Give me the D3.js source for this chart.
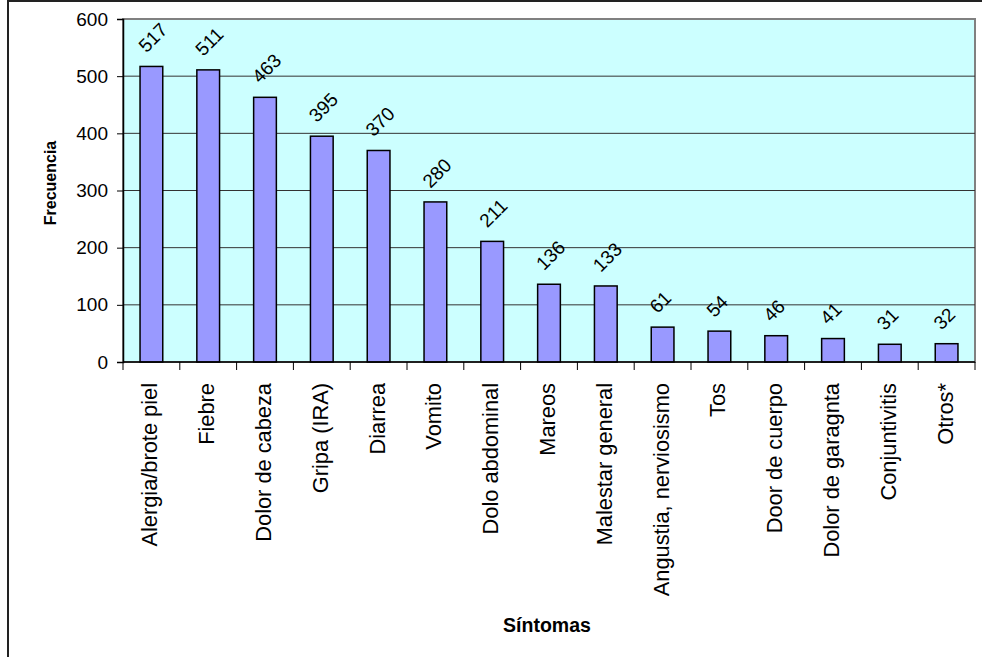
<!DOCTYPE html>
<html>
<head>
<meta charset="utf-8">
<script src="https://cdn.jsdelivr.net/npm/d3@7"></script>
<style>
  body { margin: 0; background: #fff; }
  svg { display: block; font-family: Arial, "Liberation Sans", sans-serif; }
</style>
</head>
<body>
<svg id="chart" width="982" height="657"></svg>
<script>
var categories = ["Alergia/brote piel", "Fiebre", "Dolor de cabeza", "Gripa (IRA)", "Diarrea", "Vomito",
    "Dolo abdominal", "Mareos", "Malestar general", "Angustia, nerviosismo", "Tos", "Door de cuerpo",
    "Dolor de garagnta", "Conjuntivitis", "Otros*"];
var frecuencia = [517, 511, 463, 395, 370, 280, 211, 136, 133, 61, 54, 46, 41, 31, 32];
var yTicks = [0, 100, 200, 300, 400, 500, 600];

var svg, plot, x, y, pLeft, pRight, pTop, pBottom;
svg = d3.select("#chart");
pLeft = 123; pRight = 975; pTop = 19; pBottom = 362;

// outer chart border
svg.append("rect").attr("x", 8).attr("y", 1).attr("width", 1000).attr("height", 700)
    .attr("fill", "#fff").attr("stroke", "#222").attr("stroke-width", 2);

x = d3.scaleBand().domain(categories).range([pLeft, pRight]).paddingInner(0.6).paddingOuter(0.3);
y = d3.scaleLinear().domain([0, 600]).range([pBottom, pTop]);

// plot area
svg.append("rect").attr("x", pLeft).attr("y", pTop).attr("width", pRight - pLeft).attr("height", pBottom - pTop)
    .attr("fill", "#ccffff").attr("stroke", "#808080").attr("stroke-width", 2);

// gridlines
svg.append("g").selectAll("line").data(yTicks.filter(function (d) { return d > 0 && d < 600; }))
    .enter().append("line")
    .attr("x1", pLeft).attr("x2", pRight)
    .attr("y1", function (d) { return y(d); }).attr("y2", function (d) { return y(d); })
    .attr("stroke", "#333").attr("stroke-width", 1);

// bars
plot = svg.append("g");
plot.selectAll("rect").data(frecuencia).enter().append("rect")
    .attr("x", function (d, i) { return x(categories[i]); })
    .attr("y", function (d) { return y(d); })
    .attr("width", x.bandwidth())
    .attr("height", function (d) { return pBottom - y(d); })
    .attr("fill", "#9999ff").attr("stroke", "#000").attr("stroke-width", 1.5);

// value labels, rotated
plot.selectAll("text").data(frecuencia).enter().append("text")
    .attr("transform", function (d, i) {
        var cx = x(categories[i]) + x.bandwidth() / 2;
        return "translate(" + (cx - 5) + "," + (y(d) - 13) + ") rotate(-45)";
    })
    .attr("font-size", 19).attr("fill", "#000")
    .text(function (d) { return d; });

// y axis
var yAxis = svg.append("g").attr("transform", "translate(" + pLeft + ",0)")
    .call(d3.axisLeft(y).tickValues(yTicks).tickSize(6).tickPadding(9));
yAxis.select(".domain").attr("stroke", "#000").attr("stroke-width", 1.5);
yAxis.selectAll(".tick line").attr("stroke", "#000");
yAxis.selectAll(".tick text").attr("font-size", 19).attr("font-family", "Arial, 'Liberation Sans', sans-serif").attr("fill", "#000");

// x axis: baseline with ticks at category boundaries
var xg = svg.append("g");
xg.append("line").attr("x1", pLeft).attr("x2", pRight).attr("y1", pBottom).attr("y2", pBottom)
    .attr("stroke", "#000").attr("stroke-width", 1.5);
var bounds = d3.range(categories.length + 1).map(function (i) { return pLeft + i * x.step(); });
xg.selectAll(".bt").data(bounds).enter().append("line")
    .attr("x1", function (d) { return d; }).attr("x2", function (d) { return d; })
    .attr("y1", pBottom).attr("y2", pBottom + 8)
    .attr("stroke", "#000").attr("stroke-width", 1);
xg.selectAll(".cl").data(categories).enter().append("text")
    .attr("transform", function (d) {
        return "translate(" + (x(d) + x.bandwidth() / 2 + 6) + "," + (pBottom + 21) + ") rotate(-90)";
    })
    .attr("text-anchor", "end").attr("font-size", 21.8).attr("fill", "#000")
    .text(function (d) { return d; });

// axis titles
svg.append("text").attr("transform", "translate(56,183) rotate(-90)")
    .attr("text-anchor", "middle").attr("font-size", 16).attr("font-weight", "bold")
    .text("Frecuencia");
svg.append("text").attr("x", 547).attr("y", 632)
    .attr("text-anchor", "middle").attr("font-size", 19.5).attr("font-weight", "bold")
    .text("Síntomas");
</script>
</body>
</html>
